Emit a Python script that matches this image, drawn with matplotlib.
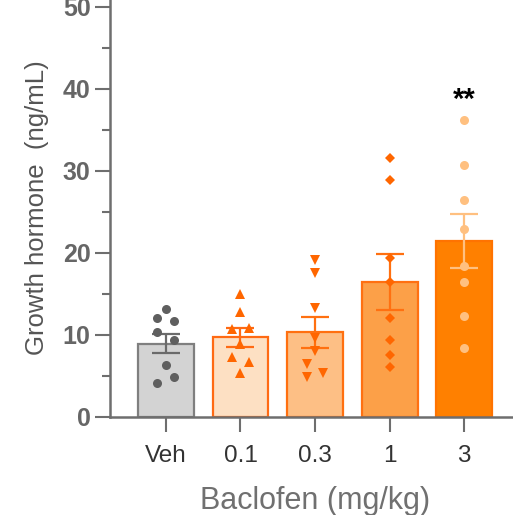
import matplotlib
matplotlib.use("Agg")
import matplotlib.pyplot as plt
from matplotlib.ticker import MultipleLocator

plt.rcParams['font.family'] = ['Liberation Sans', 'DejaVu Sans']

categories = ["Veh", "0.1", "0.3", "1", "3"]
means = [8.95, 9.7, 10.3, 16.4, 21.4]
sems = [1.2, 1.2, 1.9, 3.4, 3.3]
points_veh = [13.1, 12.0, 11.65, 10.35, 9.4, 6.3, 4.9, 4.15]
points_01 = [14.95, 12.8, 10.77, 10.8, 8.94, 7.3, 6.7, 5.3]
points_03 = [19.1, 17.55, 13.3, 9.6, 8.0, 6.4, 5.36, 4.87]
points_1 = [31.6, 28.9, 19.4, 16.45, 12.1, 9.34, 7.5, 6.1]
points_3 = [36.2, 30.65, 26.4, 22.86, 18.4, 16.5, 12.3, 8.45]
all_points = [points_veh, points_01, points_03, points_1, points_3]
# jitter side (-1 left, 0 centre, 1 right)
sides = [
    [0, -1, 1, -1, 1, 0, 1, -1],
    [0, 0, -1, 1, 0, -1, 1, 0],
    [0, 0, 0, 0, 0, -1, 1, -1],
    [0] * 8,
    [0] * 8,
]

fills = ["#d3d3d3", "#fde0c3", "#fdbf85", "#fca048", "#ff8000"]
edges = ["#7f7f7f", "#ff6a13", "#ff7010", "#ff7011", "#ff7300"]
pt_colors = ["#5f5f5f", "#ff6600", "#ff6600", "#ff6600", "#ffc080"]
err_colors = ["#6a6a6a", "#ff6a13", "#ff7010", "#ff7011", "#ffc080"]
markers = ["o", "^", "v", "D", "o"]
msizes = [6.5, 6.5, 6.5, 5, 6.5]

fig = plt.figure(figsize=(5.13, 5.15), dpi=100)
ax = fig.add_axes([110 / 513, 98 / 515, 410 / 513, 418.7 / 515])

x = list(range(len(categories)))
ax.bar(x, means, width=0.75, color=fills, edgecolor=edges, linewidth=1.6, zorder=2)
for i in x:
    ax.errorbar(i, means[i], yerr=sems[i], color=err_colors[i], capsize=10,
                elinewidth=1.6, capthick=1.6, zorder=3)
    xs = [i + 0.113 * s for s in sides[i]]
    ax.plot(xs, all_points[i], linestyle='none', marker=markers[i],
            markersize=msizes[i], color=pt_colors[i], markeredgewidth=0, zorder=4)

ax.text(4, 38.6, "**", ha='center', va='center', fontsize=21, fontweight='bold', color='black')

ax.set_xlim(-0.75, 4.75)
ax.set_ylim(0, 51)
ax.yaxis.set_major_locator(MultipleLocator(10))
ax.yaxis.set_minor_locator(MultipleLocator(5))
ax.set_xticks(x)
ax.set_xticklabels(categories, fontsize=17.5, color='#333333')
ax.tick_params(axis='y', which='major', length=11, width=1.5, color='#6e6e6e',
               labelsize=18, labelcolor='#666666', pad=3)
ax.tick_params(axis='y', which='minor', length=6, width=1.5, color='#6e6e6e')
ax.tick_params(axis='x', which='major', length=11, width=1.5, color='#6e6e6e', pad=9)
for lab in ax.get_yticklabels():
    lab.set_fontweight('bold')

for s in ['top', 'right']:
    ax.spines[s].set_visible(False)
for s in ['left', 'bottom']:
    ax.spines[s].set_color('#6e6e6e')
    ax.spines[s].set_linewidth(1.8)

ax.set_ylabel("Growth hormone  (ng/mL)", fontsize=18.5, color='#555555', labelpad=10)
ax.set_xlabel("Baclofen (mg/kg)", fontsize=22, color='#707070', labelpad=14)

fig.savefig("out.png", dpi=100)
